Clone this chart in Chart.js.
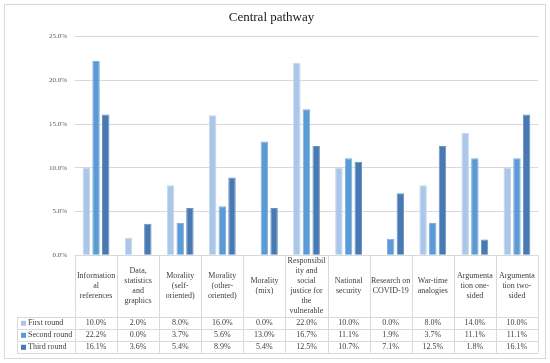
<!DOCTYPE html>
<html>
<head>
<meta charset="utf-8">
<script src="https://cdn.jsdelivr.net/npm/chart.js@4/dist/chart.umd.min.js"></script>
<style>
html,body{margin:0;padding:0;background:#fff;}
#wrap{width:550px;height:363px;position:relative;}
</style>
</head>
<body>
<div id="wrap"><canvas id="c" width="550" height="363"></canvas></div>
<script>
const categories = [
  ["Information","al","references"],
  ["Data,","statistics","and","graphics"],
  ["Morality","(self-","oriented)"],
  ["Morality","(other-","oriented)"],
  ["Morality","(mix)"],
  ["Responsibil","ity and","social","justice for","the","vulnerable"],
  ["National","security"],
  ["Research on","COVID-19"],
  ["War-time","analogies"],
  ["Argumenta","tion one-","sided"],
  ["Argumenta","tion two-","sided"]
];
const seriesNames = ["First round","Second round","Third round"];
const firstRound  = [10.0, 2.0, 8.0, 16.0, 0.0, 22.0, 10.0, 0.0, 8.0, 14.0, 10.0];
const secondRound = [22.2, 0.0, 3.7, 5.6, 13.0, 16.7, 11.1, 1.9, 3.7, 11.1, 11.1];
const thirdRound  = [16.1, 3.6, 5.4, 8.9, 5.4, 12.5, 10.7, 7.1, 12.5, 1.8, 16.1];
const yTicks = [0, 5, 10, 15, 20, 25];

const colors = ['#AAC6E8', '#5A9AD5', '#4879B2'];
const borders = ['#C3D7F0', '#7DB0E0', '#6A93C2'];
const FONT = '"Liberation Serif", "Times New Roman", serif';
const gridColor = '#D9D9D9';
const textColor = '#404040';

const tablePlugin = {
  id: 'dataTable',
  afterDraw(chart) {
    const ctx = chart.ctx;
    const area = chart.chartArea;
    const xs = chart.scales.x;
    const n = categories.length;
    const w = xs.getPixelForValue(1) - xs.getPixelForValue(0);
    const top = area.bottom;
    const headerBottom = top + 61.5;
    const rowH = 12;
    const bottom = headerBottom + rowH * 3;
    const legLeft = 17;
    ctx.save();
    ctx.strokeStyle = gridColor;
    ctx.lineWidth = 1;
    ctx.strokeRect(4.5, 4.5, 541, 354);
    ctx.beginPath();
    ctx.moveTo(area.left, Math.round(top) + 0.5);
    ctx.lineTo(area.right, Math.round(top) + 0.5);
    for (let i = 0; i <= n; i++) {
      const x = Math.round(xs.getPixelForValue(i) - w / 2) + 0.5;
      ctx.moveTo(x, top);
      ctx.lineTo(x, bottom);
    }
    ctx.moveTo(legLeft + 0.5, headerBottom);
    ctx.lineTo(legLeft + 0.5, bottom);
    for (let r = 0; r <= 3; r++) {
      const y = Math.round(headerBottom + r * rowH) + 0.5;
      ctx.moveTo(legLeft, y);
      ctx.lineTo(area.right, y);
    }
    ctx.stroke();

    ctx.fillStyle = textColor;
    ctx.font = '8px ' + FONT;
    ctx.textAlign = 'center';
    ctx.textBaseline = 'middle';
    const lh = 10;
    const hc = (top + headerBottom) / 2;
    categories.forEach((lines, i) => {
      const cx = xs.getPixelForValue(i);
      const y0 = hc - (lines.length - 1) * lh / 2;
      lines.forEach((t, k) => ctx.fillText(t, cx, y0 + k * lh));
    });
    const rows = [firstRound, secondRound, thirdRound];
    rows.forEach((vals, r) => {
      const cy = headerBottom + r * rowH + rowH / 2 + 0.5;
      vals.forEach((v, i) => {
        ctx.fillStyle = textColor;
        ctx.textAlign = 'center';
        ctx.fillText(v.toFixed(1) + '%', xs.getPixelForValue(i), cy);
      });
      ctx.fillStyle = colors[r];
      ctx.fillRect(legLeft + 4, cy - 2.5, 5, 5);
      ctx.fillStyle = textColor;
      ctx.textAlign = 'left';
      ctx.fillText(seriesNames[r], legLeft + 11, cy);
    });
    ctx.restore();
  }
};

new Chart(document.getElementById('c'), {
  type: 'bar',
  data: {
    labels: categories.map(l => l.join(' ')),
    datasets: [
      { label: seriesNames[0], data: firstRound, backgroundColor: colors[0], borderColor: borders[0], borderWidth: 1 },
      { label: seriesNames[1], data: secondRound, backgroundColor: colors[1], borderColor: borders[1], borderWidth: 1 },
      { label: seriesNames[2], data: thirdRound, backgroundColor: colors[2], borderColor: borders[2], borderWidth: 1 }
    ]
  },
  options: {
    responsive: false,
    animation: false,
    devicePixelRatio: 1,
    layout: { padding: { left: 5, right: 12, top: 0, bottom: 107.7 } },
    datasets: { bar: { categoryPercentage: 0.69, barPercentage: 0.77 } },
    plugins: {
      legend: { display: false },
      tooltip: { enabled: false },
      title: {
        display: true,
        text: 'Central pathway',
        color: '#1a1a1a',
        font: { family: FONT, size: 13, weight: 'normal' },
        padding: { top: 10, bottom: 11 }
      }
    },
    scales: {
      x: { display: false, offset: true },
      y: {
        min: 0, max: 25,
        afterBuildTicks(scale) { scale.ticks = yTicks.map(v => ({ value: v })); },
        afterFit(scale) { scale.width = 70; },
        border: { display: false },
        grid: { color: gridColor, drawTicks: false, lineWidth: 1 },
        ticks: {
          padding: 8,
          color: '#595959',
          font: { family: FONT, size: 7 },
          callback: v => Number(v).toFixed(1) + '%'
        }
      }
    }
  },
  plugins: [tablePlugin]
});
</script>
</body>
</html>
